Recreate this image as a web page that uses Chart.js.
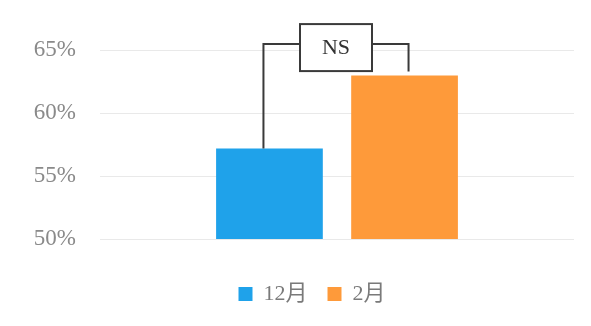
<!DOCTYPE html>
<html><head><meta charset="utf-8">
<script src="https://cdn.jsdelivr.net/npm/chart.js@4/dist/chart.umd.min.js"></script>
<style>html,body{margin:0;padding:0;background:#fff;}#wrap{width:591px;height:326px;}</style>
</head><body><div id="wrap"><canvas id="c" width="591" height="326"></canvas></div>
<script>
const categories = [''];
const seriesNames = ['12月', '2月'];
const valuesDec = [57.2];
const valuesFeb = [63.0];
const yTicks = [50, 55, 60, 65];
const sigLabel = 'NS';
const sigLevel = 65.5;

const serif = '"Liberation Serif","DejaVu Serif","Noto Sans CJK JP",serif';

const bracketPlugin = {
  id: 'bracket',
  afterLayout(chart) {
    const lg = chart.legend;
    if (lg) { lg.left += 11; lg.right += 11; }
  },
  afterDatasetsDraw(chart) {
    const ctx = chart.ctx;
    const y = chart.scales.y;
    const b0 = chart.getDatasetMeta(0).data[0];
    const b1 = chart.getDatasetMeta(1).data[0];
    const xl = b0.x - 6, xr = b1.x + 4;
    const yl = y.getPixelForValue(sigLevel);
    const xm = (xl + xr) / 2;
    ctx.save();
    ctx.strokeStyle = '#3a3a3a';
    ctx.lineWidth = 2;
    ctx.beginPath();
    ctx.moveTo(xl, b0.y);
    ctx.lineTo(xl, yl);
    ctx.lineTo(xr, yl);
    ctx.lineTo(xr, b1.y - 4);
    ctx.stroke();
    const bw = 72, bh = 47;
    ctx.fillStyle = '#fff';
    ctx.fillRect(xm - bw / 2, yl - 20, bw, bh);
    ctx.strokeRect(xm - bw / 2, yl - 20, bw, bh);
    ctx.fillStyle = '#333';
    ctx.font = '22px ' + serif;
    ctx.textAlign = 'center';
    ctx.textBaseline = 'middle';
    ctx.fillText(sigLabel, xm, yl + 4);
    ctx.restore();
  }
};

new Chart(document.getElementById('c'), {
  type: 'bar',
  data: {
    labels: categories,
    datasets: [
      { label: seriesNames[0], data: valuesDec, backgroundColor: '#1fa2ea', borderWidth: 0 },
      { label: seriesNames[1], data: valuesFeb, backgroundColor: '#fe9a3a', borderWidth: 0 }
    ]
  },
  options: {
    responsive: false,
    animation: false,
    layout: { padding: { left: 28, right: 17, top: 35, bottom: 11 } },
    datasets: { bar: { categoryPercentage: 0.57, barPercentage: 0.79 } },
    scales: {
      x: {
        display: true,
        grid: { display: false },
        border: { display: false },
        ticks: { display: false },
        afterFit(s) { s.height = 24; }
      },
      y: {
        min: 50, max: 66,
        border: { display: false },
        grid: { color: '#e9e9e9', lineWidth: 1, drawTicks: false },
        afterFit(s) { s.width = 72; },
        afterBuildTicks(s) { s.ticks = yTicks.map(v => ({ value: v })); },
        ticks: {
          padding: 24,
          color: '#8a8a8a',
          font: { family: serif, size: 23 },
          callback: v => v + '%'
        }
      }
    },
    plugins: {
      legend: {
        position: 'bottom',
        labels: {
          color: '#7a7a7a',
          font: { family: serif, size: 22 },
          boxWidth: 14, boxHeight: 14,
          padding: 20
        }
      },
      tooltip: { enabled: false }
    }
  },
  plugins: [bracketPlugin]
});
</script></body></html>
